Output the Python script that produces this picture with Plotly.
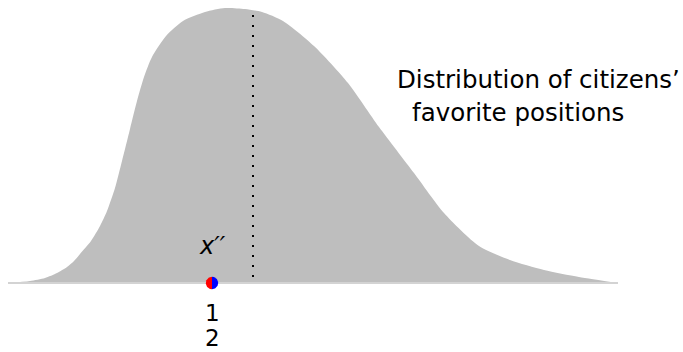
import numpy as np
import plotly.graph_objects as go

# Distribution of citizens' favourite positions (position, density height)
positions = [8, 30, 45, 57, 67, 74, 80, 91, 100, 107, 115, 122, 130, 137, 144, 152, 166,
             183, 205, 225, 245, 262, 283, 314, 348, 379, 414, 444, 479, 510, 544, 579, 618]
density = [0, 2, 5, 10, 16, 22, 29, 42, 57, 72, 95, 122, 154, 182, 206, 226, 247,
           262, 271, 275, 274, 271, 262, 237, 200, 156, 110, 70, 37, 23, 13, 6, 0]

# Dotted line (mean / median) position and its extent
mean_position = 253
mean_line_extent = [6, 270]

# Voter ideal point x'' (both players 1 and 2 located there)
x_pp = 212
player_labels = ["1", "2"]
player_colors = ["#ff0000", "#0000ff"]

W, H = 683, 352
BASE_PX = 283

fig = go.Figure()

fig.add_trace(go.Scatter(x=positions, y=density, mode="lines", fill="tozeroy",
                         fillcolor="#bebebe",
                         line=dict(color="#bebebe", width=0, shape="spline", smoothing=0.7),
                         hoverinfo="skip"))
# baseline
fig.add_trace(go.Scatter(x=[positions[0], positions[-1]], y=[0, 0], mode="lines",
                         line=dict(color="#d3d3d3", width=2), hoverinfo="skip"))
# dotted line
fig.add_trace(go.Scatter(x=[mean_position, mean_position], y=mean_line_extent, mode="lines",
                         line=dict(color="black", width=2, dash="2px,8px"), hoverinfo="skip"))

# split marker: left half red, right half blue
r = 6.2
tl = np.linspace(np.pi / 2, 3 * np.pi / 2, 40)
tr = np.linspace(-np.pi / 2, np.pi / 2, 40)
for t, col in zip([tl, tr], player_colors):
    xs = x_pp + r * np.cos(t)
    ys = r * np.sin(t)
    fig.add_trace(go.Scatter(x=np.append(xs, xs[0]), y=np.append(ys, ys[0]), mode="lines",
                             fill="toself", fillcolor=col, line=dict(width=0, color=col),
                             hoverinfo="skip"))

font = "DejaVu Sans"
ann = [
    dict(x=395, y=BASE_PX - 79, text="Distribution of citizens’", xanchor="left", yanchor="middle",
         font=dict(size=24.5, family=font, color="black")),
    dict(x=410, y=BASE_PX - 112, text="favorite positions", xanchor="left", yanchor="middle",
         font=dict(size=24.5, family=font, color="black")),
    dict(x=x_pp, y=BASE_PX - 246, text="<i>x′′</i>", xanchor="center", yanchor="middle",
         font=dict(size=24, family=font, color="black")),
    dict(x=x_pp, y=BASE_PX - 313, text=player_labels[0], xanchor="center", yanchor="middle",
         font=dict(size=23, family=font, color="black")),
    dict(x=x_pp, y=BASE_PX - 338, text=player_labels[1], xanchor="center", yanchor="middle",
         font=dict(size=23, family=font, color="black")),
]
for a in ann:
    a.update(showarrow=False, xref="x", yref="y")

fig.update_layout(
    width=W, height=H, margin=dict(l=0, r=0, t=0, b=0),
    paper_bgcolor="white", plot_bgcolor="white", showlegend=False,
    xaxis=dict(range=[0, W], visible=False, fixedrange=True),
    yaxis=dict(range=[BASE_PX - H, BASE_PX], visible=False, fixedrange=True),
    annotations=ann,
)

fig.write_html("out.html", config=dict(displayModeBar=False),
               post_script="document.body.style.margin='0';document.body.style.overflow='hidden';")
